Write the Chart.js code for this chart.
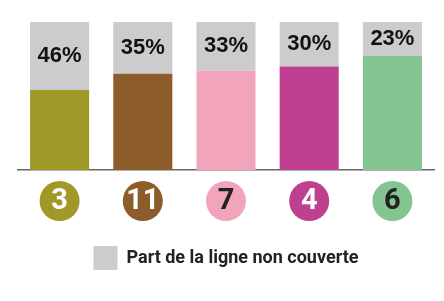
<!DOCTYPE html>
<html>
<head>
<meta charset="utf-8">
<script src="https://cdn.jsdelivr.net/npm/chart.js@4.4.0/dist/chart.umd.min.js"></script>
<style>
  html, body { margin: 0; padding: 0; background: #fff; }
</style>
</head>
<body>
<canvas id="chart" width="444" height="301"></canvas>
<script>
/* ---------- DATA ---------- */
const lines = ["3", "11", "7", "4", "6"];
const uncovered = [46, 35, 33, 30, 23];
const covered = [54, 65, 67, 70, 77];
const lineColors = ["#a1982a", "#8d5c2b", "#f2a5ba", "#bf3f90", "#83c490"];
const numberColors = ["#ffffff", "#ffffff", "#222222", "#ffffff", "#222222"];
const legendLabel = "Part de la ligne non couverte";

/* ---------- PERCENT LABELS ---------- */
const percentLabels = {
  id: "percentLabels",
  afterDatasetsDraw(chart) {
    const ctx = chart.ctx;
    const meta = chart.getDatasetMeta(1);
    ctx.save();
    ctx.font = "bold 22px 'Liberation Sans', Arial, sans-serif";
    ctx.fillStyle = "#111";
    ctx.textAlign = "center";
    ctx.textBaseline = "middle";
    meta.data.forEach((bar, i) => {
      const y = (bar.y + bar.base) / 2;
      ctx.fillText(uncovered[i] + "%", bar.x, y);
    });
    ctx.restore();
  }
};

/* ---------- LINE BADGES ---------- */
const lineBadges = {
  id: "lineBadges",
  afterDraw(chart) {
    const ctx = chart.ctx;
    const xScale = chart.scales.x;
    const y = chart.chartArea.bottom + 31;
    ctx.save();
    lines.forEach((line, i) => {
      const x = xScale.getPixelForValue(i);
      ctx.beginPath();
      ctx.arc(x, y, 20, 0, Math.PI * 2);
      ctx.fillStyle = lineColors[i];
      ctx.fill();
      ctx.font = "bold 29px Roboto, sans-serif";
      ctx.fillStyle = numberColors[i];
      ctx.textAlign = "center";
      ctx.textBaseline = "middle";
      ctx.fillText(line, x, y + 1);
    });
    ctx.restore();
  }
};

/* ---------- CHART ---------- */
new Chart(document.getElementById("chart"), {
  type: "bar",
  data: {
    labels: lines,
    datasets: [
      {
        label: "Part couverte",
        data: covered,
        backgroundColor: lineColors,
        borderWidth: 0
      },
      {
        label: legendLabel,
        data: uncovered,
        backgroundColor: "#cccccc",
        borderWidth: 0
      }
    ]
  },
  options: {
    responsive: false,
    animation: false,
    devicePixelRatio: 1,
    datasets: {
      bar: { barPercentage: 0.71, categoryPercentage: 1 }
    },
    layout: {
      padding: { top: 22, left: 18, right: 10, bottom: 21 }
    },
    scales: {
      x: {
        stacked: true,
        grid: { display: false },
        border: { color: "#666", width: 1.5 },
        ticks: { display: false },
        afterFit: scale => { scale.height = 66; }
      },
      y: {
        stacked: true,
        min: 0,
        max: 100,
        display: false
      }
    },
    plugins: {
      tooltip: { enabled: false },
      legend: {
        position: "bottom",
        labels: {
          filter: item => item.datasetIndex === 1,
          boxWidth: 24,
          boxHeight: 24,
          padding: 10,
          color: "#222",
          font: { family: "Roboto", weight: "bold", size: 18 }
        }
      }
    }
  },
  plugins: [percentLabels, lineBadges]
});
</script>
</body>
</html>
